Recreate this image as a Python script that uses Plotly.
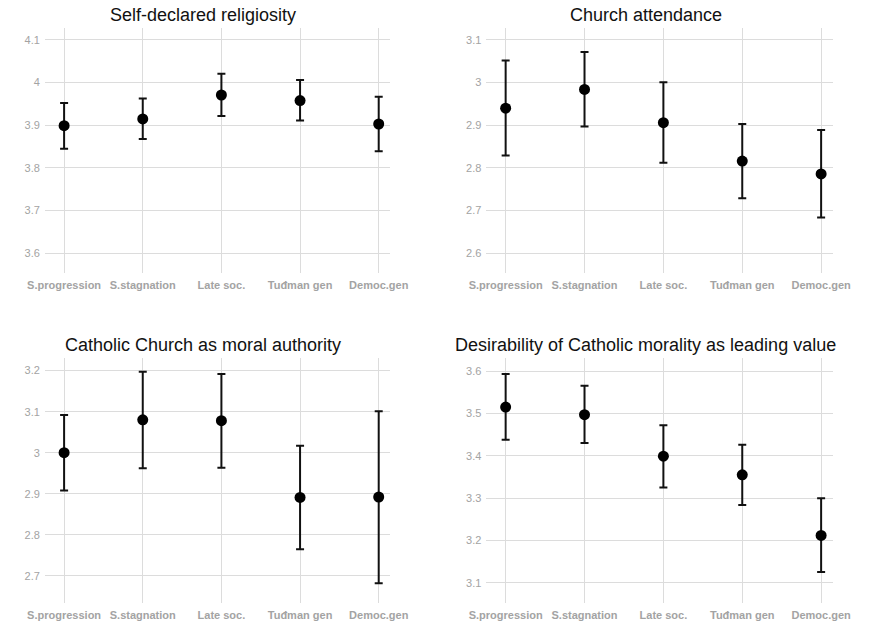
import plotly.graph_objects as go

categories = ["S.progression", "S.stagnation", "Late soc.", "Tuđman gen", "Democ.gen"]

titles = [
    "Self-declared religiosity",
    "Church attendance",
    "Catholic Church as moral authority",
    "Desirability of Catholic morality as leading value",
]

# Self-declared religiosity
relig_mean = [3.899, 3.915, 3.971, 3.958, 3.903]
relig_low = [3.845, 3.868, 3.922, 3.911, 3.839]
relig_high = [3.952, 3.963, 4.021, 4.006, 3.967]

# Church attendance
attend_mean = [2.940, 2.984, 2.906, 2.816, 2.786]
attend_low = [2.829, 2.897, 2.812, 2.729, 2.684]
attend_high = [3.052, 3.072, 3.001, 2.903, 2.889]

# Catholic Church as moral authority
moral_mean = [3.000, 3.080, 3.078, 2.891, 2.892]
moral_low = [2.908, 2.962, 2.963, 2.765, 2.682]
moral_high = [3.092, 3.197, 3.192, 3.017, 3.101]

# Desirability of Catholic morality as leading value
desir_mean = [3.515, 3.497, 3.399, 3.355, 3.212]
desir_low = [3.438, 3.430, 3.325, 3.284, 3.126]
desir_high = [3.593, 3.565, 3.472, 3.426, 3.300]

y_ticks = [
    [3.6, 3.7, 3.8, 3.9, 4.0, 4.1],
    [2.6, 2.7, 2.8, 2.9, 3.0, 3.1],
    [2.7, 2.8, 2.9, 3.0, 3.1, 3.2],
    [3.1, 3.2, 3.3, 3.4, 3.5, 3.6],
]
y_ticktext = [
    ["3.6", "3.7", "3.8", "3.9", "4", "4.1"],
    ["2.6", "2.7", "2.8", "2.9", "3", "3.1"],
    ["2.7", "2.8", "2.9", "3", "3.1", "3.2"],
    ["3.1", "3.2", "3.3", "3.4", "3.5", "3.6"],
]
y_ranges = [
    [3.5545, 4.128],
    [2.5545, 3.128],
    [2.633, 3.230],
    [3.052, 3.630],
]

series = [
    (relig_mean, relig_low, relig_high),
    (attend_mean, attend_low, attend_high),
    (moral_mean, moral_low, moral_high),
    (desir_mean, desir_low, desir_high),
]

W, H = 870, 622
# panel domains in pixels (left, right, top, bottom)
px_dom = [
    (29, 389, 28, 272.7),
    (489, 850, 28, 272.7),
    (29, 389, 358.3, 603.3),
    (489, 850, 358.3, 603.3),
]
title_pos = [(194, 14.7), (655, 14.7), (194, 345), (655, 345)]

fig = go.Figure()
xpos = list(range(len(categories)))

for i, ((m, lo, hi), dom) in enumerate(zip(series, px_dom)):
    ax = "" if i == 0 else str(i + 1)
    fig.add_trace(go.Scatter(
        x=xpos, y=m, mode="markers",
        marker=dict(color="#000000", size=11),
        error_y=dict(
            type="data", symmetric=False,
            array=[h - v for h, v in zip(hi, m)],
            arrayminus=[v - l for v, l in zip(m, lo)],
            color="#111111", thickness=2, width=4,
        ),
        xaxis="x" + ax, yaxis="y" + ax, showlegend=False,
    ))
    l, r, t, b = dom
    fig.layout["xaxis" + ax] = dict(
        domain=[l / W, r / W], anchor="y" + ax,
        range=[-0.245, 4.148], tickvals=xpos, ticktext=categories,
        showgrid=True, gridcolor="#dcdcdc", gridwidth=1.2,
        zeroline=False, showline=False, ticks="",
        tickfont=dict(family="Liberation Sans, Arial", size=11, color="#a3a3a3", weight="bold"),
        ticklabelstandoff=4, fixedrange=True,
    )
    fig.layout["yaxis" + ax] = dict(
        domain=[(H - b) / H, (H - t) / H], anchor="x" + ax,
        range=y_ranges[i], tickvals=y_ticks[i], ticktext=y_ticktext[i],
        showgrid=True, gridcolor="#dcdcdc", gridwidth=1.2,
        zeroline=False, showline=False, ticks="",
        tickfont=dict(family="Liberation Sans, Arial", size=11, color="#a3a3a3"),
        ticklabelstandoff=4, fixedrange=True,
    )
    tx, ty = title_pos[i]
    fig.add_annotation(
        text=titles[i], x=tx / W, y=1 - ty / H, xref="paper", yref="paper",
        xanchor="center", yanchor="middle", showarrow=False,
        font=dict(family="Liberation Sans, Arial", size=18, color="#111111"),
    )

fig.update_layout(
    width=W, height=H, margin=dict(l=0, r=0, t=0, b=0),
    paper_bgcolor="white", plot_bgcolor="white",
)

fig.write_html("out.html")
